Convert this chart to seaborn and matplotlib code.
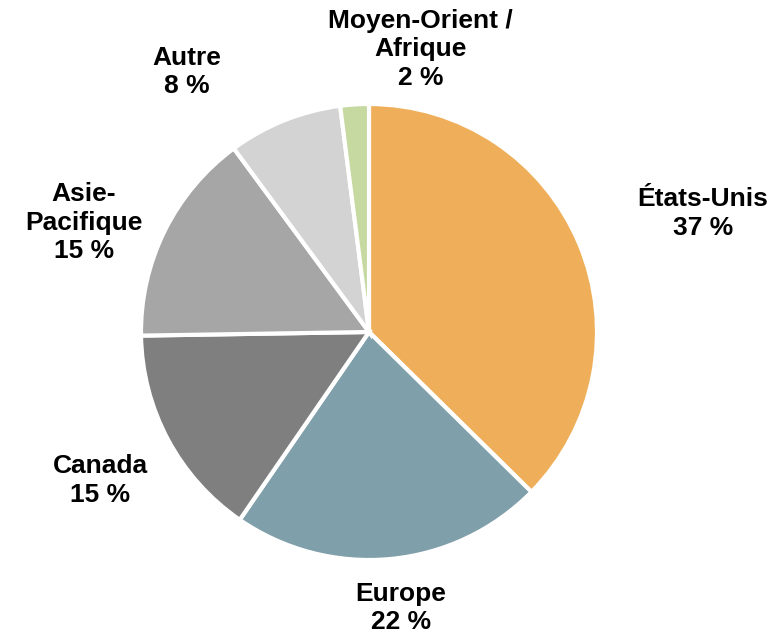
import matplotlib
matplotlib.use("Agg")
import matplotlib.pyplot as plt
import seaborn as sns

categories = ["États-Unis", "Europe", "Canada", "Asie-\nPacifique", "Autre", "Moyen-Orient /\nAfrique"]
values = [37, 22, 15, 15, 8, 2]
value_labels = ["37 %", "22 %", "15 %", "15 %", "8 %", "2 %"]

colors = ["#EFAF5A", "#7F9FAA", "#7F7F7F", "#A6A6A6", "#D3D3D3", "#C5D9A0"]
# label centre positions in data units (pie radius = 1)
label_pos = [(1.465, 0.52), (0.14, -1.21), (-1.18, -0.65), (-1.25, 0.48), (-0.80, 1.14), (0.225, 1.24)]

sns.set_theme(style="white")
plt.rcParams['font.family'] = ['Liberation Sans', 'DejaVu Sans']

W, H = 769, 634
fig = plt.figure(figsize=(W / 100, H / 100), dpi=100)
cx, cy, r = 369, 332, 228
ax = fig.add_axes([(cx - r) / W, (H - cy - r) / H, 2 * r / W, 2 * r / H])
ax.pie(values, colors=colors, startangle=90, counterclock=False, radius=1,
       wedgeprops=dict(edgecolor="white", linewidth=3))
ax.set_xlim(-1, 1)
ax.set_ylim(-1, 1)
ax.set_aspect("equal")
ax.axis("off")

for cat, vl, (x, y) in zip(categories, value_labels, label_pos):
    ax.text(x, y, f"{cat}\n{vl}", ha="center", va="center", fontsize=19,
            fontweight="bold", color="black", linespacing=1.25, clip_on=False)

fig.savefig("out.png", dpi=100)
